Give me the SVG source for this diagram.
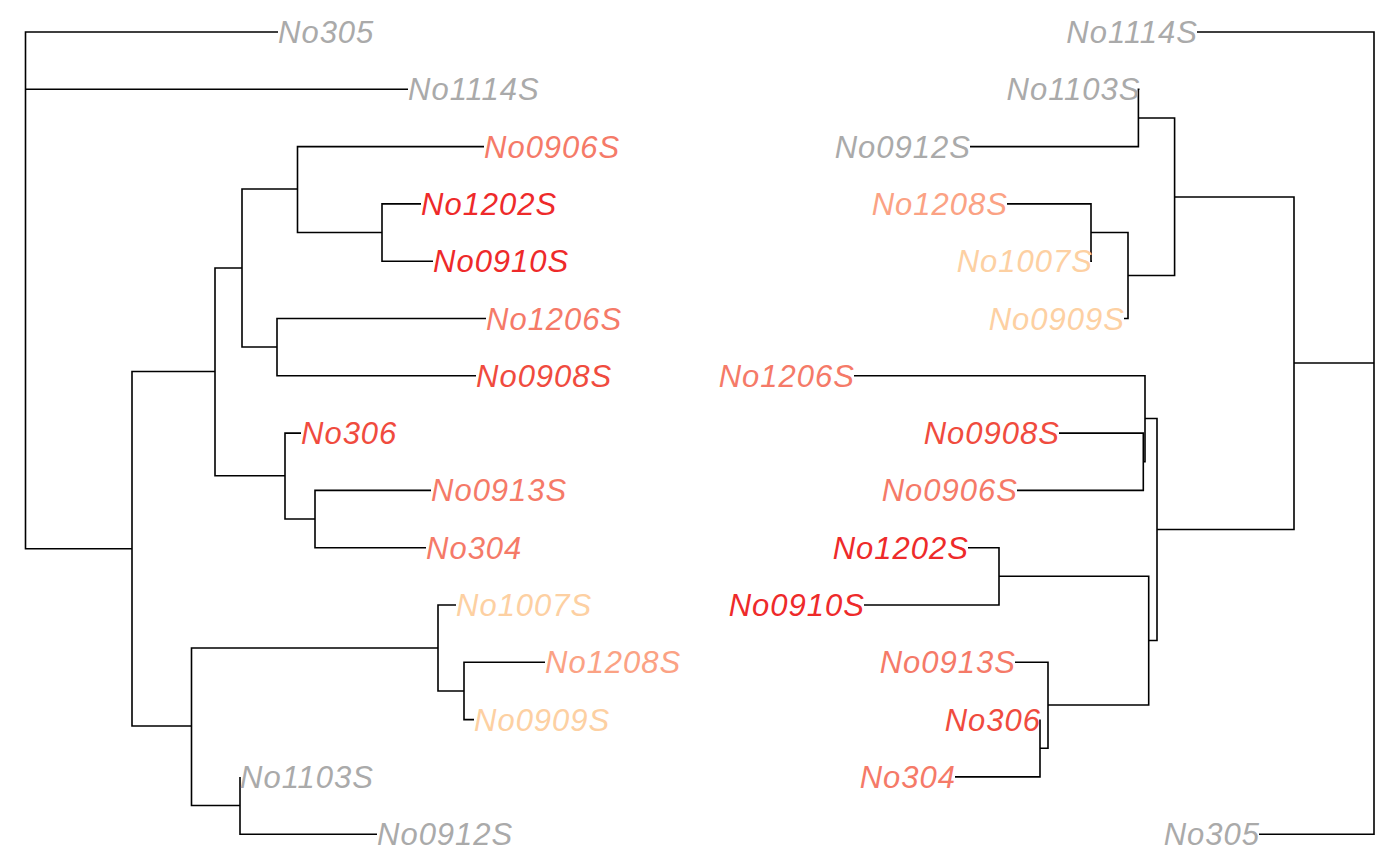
<svg xmlns="http://www.w3.org/2000/svg" width="1400" height="866" viewBox="0 0 1400 866">
<style>
.e{fill:none;stroke:#000;stroke-width:1.6;stroke-linecap:butt;stroke-linejoin:miter}
text{font-family:"Liberation Sans",Arial,sans-serif;font-style:italic;font-size:31px;letter-spacing:1px}
.l{text-anchor:start}
.r{text-anchor:end}
.g{fill:#AAAAAA}
.c1{fill:#EE2A2A}
.c2{fill:#F04B3E}
.c3{fill:#F57A68}
.c4{fill:#FBA284}
.c5{fill:#FDD0A2}
</style>
<rect width="1400" height="866" fill="#fff"/>
<g id="connectors">
<g id="left-tree">
<path class="e" d="M278,32 H25.5 V548.7 H132"/>
<path class="e" d="M25.5,89.3 H408"/>
<path class="e" d="M215,371.5 H132 V726 H191.5"/>
<path class="e" d="M242,268 H215 V475.7 H285"/>
<path class="e" d="M297.5,189 H242 V347 H277"/>
<path class="e" d="M484,146.6 H297.5 V232.5 H382"/>
<path class="e" d="M421,203.9 H382 V261.2 H433"/>
<path class="e" d="M486,318.5 H277 V375.8 H476"/>
<path class="e" d="M301,433.1 H285 V519 H315"/>
<path class="e" d="M431,490.4 H315 V547.7 H426"/>
<path class="e" d="M438,648 H191.5 V805.5 H240"/>
<path class="e" d="M456,605 H438 V691 H464"/>
<path class="e" d="M545,662.3 H464 V719.6 H474"/>
<path class="e" d="M240,776.9 V834.2 H377"/>
</g>
<g id="right-tree">
<path class="e" d="M1197,32 H1374 V834.2 H1259"/>
<path class="e" d="M1294,363 H1374"/>
<path class="e" d="M1174.6,197 H1294 V529.5 H1157"/>
<path class="e" d="M1138.4,118 H1174.6 V275.5 H1128"/>
<path class="e" d="M1139.5,89.3 H1138.4 V146.6 H970"/>
<path class="e" d="M1091,232.5 H1128 V318.5 H1124"/>
<path class="e" d="M1007,203.9 H1091 V261.2 H1092"/>
<path class="e" d="M1145,418.5 H1157 V640.5 H1148.7"/>
<path class="e" d="M854,375.8 H1145 V461.7 H1143.3"/>
<path class="e" d="M1059,433.1 H1143.3 V490.4 H1017"/>
<path class="e" d="M999,576.3 H1148.7 V705 H1048"/>
<path class="e" d="M968,547.7 H999 V605 H864"/>
<path class="e" d="M1015,662.3 H1048 V748.3 H1040"/>
<path class="e" d="M1040,719.6 V776.9 H955"/>
</g>
</g>
<g id="left-labels">
<g id="L-No305"><text class="l g" x="278" y="43">No305</text></g>
<g id="L-No1114S"><text class="l g" x="408" y="100.3">No1114S</text></g>
<g id="L-No0906S"><text class="l c3" x="484" y="157.6">No0906S</text></g>
<g id="L-No1202S"><text class="l c1" x="421" y="214.9">No1202S</text></g>
<g id="L-No0910S"><text class="l c1" x="433" y="272.2">No0910S</text></g>
<g id="L-No1206S"><text class="l c3" x="486" y="329.5">No1206S</text></g>
<g id="L-No0908S"><text class="l c2" x="476" y="386.8">No0908S</text></g>
<g id="L-No306"><text class="l c2" x="301" y="444.1">No306</text></g>
<g id="L-No0913S"><text class="l c3" x="431" y="501.4">No0913S</text></g>
<g id="L-No304"><text class="l c3" x="426" y="558.7">No304</text></g>
<g id="L-No1007S"><text class="l c5" x="456" y="616">No1007S</text></g>
<g id="L-No1208S"><text class="l c4" x="545" y="673.3">No1208S</text></g>
<g id="L-No0909S"><text class="l c5" x="474" y="730.6">No0909S</text></g>
<g id="L-No1103S"><text class="l g" x="240" y="787.9">No1103S</text></g>
<g id="L-No0912S"><text class="l g" x="377" y="845.2">No0912S</text></g>
</g>
<g id="right-labels">
<g id="R-No1114S"><text class="r g" x="1198" y="43">No1114S</text></g>
<g id="R-No1103S"><text class="r g" x="1140.5" y="100.3">No1103S</text></g>
<g id="R-No0912S"><text class="r g" x="971" y="157.6">No0912S</text></g>
<g id="R-No1208S"><text class="r c4" x="1008" y="214.9">No1208S</text></g>
<g id="R-No1007S"><text class="r c5" x="1093" y="272.2">No1007S</text></g>
<g id="R-No0909S"><text class="r c5" x="1125" y="329.5">No0909S</text></g>
<g id="R-No1206S"><text class="r c3" x="855" y="386.8">No1206S</text></g>
<g id="R-No0908S"><text class="r c2" x="1060" y="444.1">No0908S</text></g>
<g id="R-No0906S"><text class="r c3" x="1018" y="501.4">No0906S</text></g>
<g id="R-No1202S"><text class="r c1" x="969" y="558.7">No1202S</text></g>
<g id="R-No0910S"><text class="r c1" x="865" y="616">No0910S</text></g>
<g id="R-No0913S"><text class="r c3" x="1016" y="673.3">No0913S</text></g>
<g id="R-No306"><text class="r c2" x="1041" y="730.6">No306</text></g>
<g id="R-No304"><text class="r c3" x="956" y="787.9">No304</text></g>
<g id="R-No305"><text class="r g" x="1260" y="845.2">No305</text></g>
</g>
</svg>
